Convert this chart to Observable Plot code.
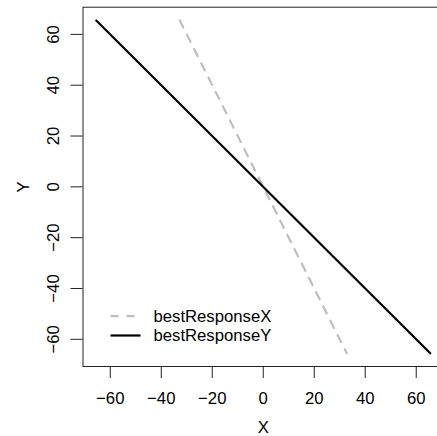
<!DOCTYPE html>
<html><head><meta charset="utf-8">
<script src="https://cdn.jsdelivr.net/npm/d3@7"></script>
<script src="https://cdn.jsdelivr.net/npm/@observablehq/plot@0.6"></script>
<style>body{margin:0;background:#fff}</style>
</head><body><div id="chart"></div>
<script>
const seriesNames = ["bestResponseX", "bestResponseY"];
const bestResponseX = [{x: -32.75, y: 65.5}, {x: 32.75, y: -65.5}];
const bestResponseY = [{x: -65.5, y: 65.5}, {x: 65.5, y: -65.5}];
const xTicks = [-60, -40, -20, 0, 20, 40, 60];
const yTicks = [-60, -40, -20, 0, 20, 40, 60];
const xDomain = [-70.7, 70.7];
const yDomain = [-70.7, 70.7];
const xLabel = "X";
const yLabel = "Y";

const fmt = d => String(d).replace("-", "\u2212");
const font = "'Liberation Sans', Arial, Helvetica, sans-serif";
const fs = 16.7;

// legend layout (pixel -> data via scale fractions)
const lx = t => xDomain[0] + (xDomain[1] - xDomain[0]) * t;
const ly = t => yDomain[1] - (yDomain[1] - yDomain[0]) * t;
const legendRows = seriesNames.map((name, i) => ({name, i}));
const lgX0 = lx((110 - 82.5) / 360.5), lgX1 = lx((140 - 82.5) / 360.5), lgTX = lx((153 - 82.5) / 360.5);
const lgY = i => ly((315.7 + i * 19.3 - 6.7) / 359.3);

const chart = Plot.plot({
  width: 437,
  height: 436,
  marginLeft: 82.5,
  marginTop: 6.7,
  marginBottom: 70,
  marginRight: -6,
  style: {fontFamily: font, fontSize: fs + "px", background: "#fff", color: "#000", overflow: "hidden"},
  x: {domain: xDomain},
  y: {domain: yDomain},
  marks: [
    Plot.frame({stroke: "#222", strokeWidth: 1}),
    Plot.line(bestResponseX, {x: "x", y: "y", stroke: "#BEBEBE", strokeWidth: 2.2, strokeDasharray: "8,8"}),
    Plot.line(bestResponseY, {x: "x", y: "y", stroke: "#000", strokeWidth: 2.2}),
    Plot.axisX({ticks: xTicks, tickSize: 12, tickPadding: 14, tickFormat: fmt, fontSize: fs, stroke: "#222", label: null}),
    Plot.axisY({ticks: yTicks, tickSize: 12, text: null, stroke: "#222", label: null}),
    Plot.text(yTicks, {y: d => d, text: fmt, frameAnchor: "left", dx: -29.5, rotate: -90, textAnchor: "middle", lineAnchor: "middle", fontSize: fs, fill: "#000"}),
    Plot.text([yLabel], {text: d => d, frameAnchor: "left", dx: -59.5, rotate: -90, textAnchor: "middle", lineAnchor: "middle", fontSize: fs, fill: "#000"}),
    Plot.text([xLabel], {text: d => d, x: () => 0, frameAnchor: "bottom", dy: 61.5, lineAnchor: "middle", textAnchor: "middle", fontSize: fs, fill: "#000"}),
    // legend
    Plot.link(legendRows.filter(d => d.i === 0), {x1: () => lgX0, x2: () => lgX1, y1: d => lgY(d.i), y2: d => lgY(d.i),
      stroke: "#BEBEBE", strokeWidth: 2.2, strokeDasharray: "8,8"}),
    Plot.link(legendRows.filter(d => d.i === 1), {x1: () => lgX0, x2: () => lgX1, y1: d => lgY(d.i), y2: d => lgY(d.i),
      stroke: "#000", strokeWidth: 2.2}),
    Plot.text(legendRows, {x: () => lgTX, y: d => lgY(d.i), text: d => d.name, textAnchor: "start", lineAnchor: "middle", fontSize: fs, fill: "#000"})
  ]
});
document.getElementById("chart").append(chart);
</script>
</body></html>
